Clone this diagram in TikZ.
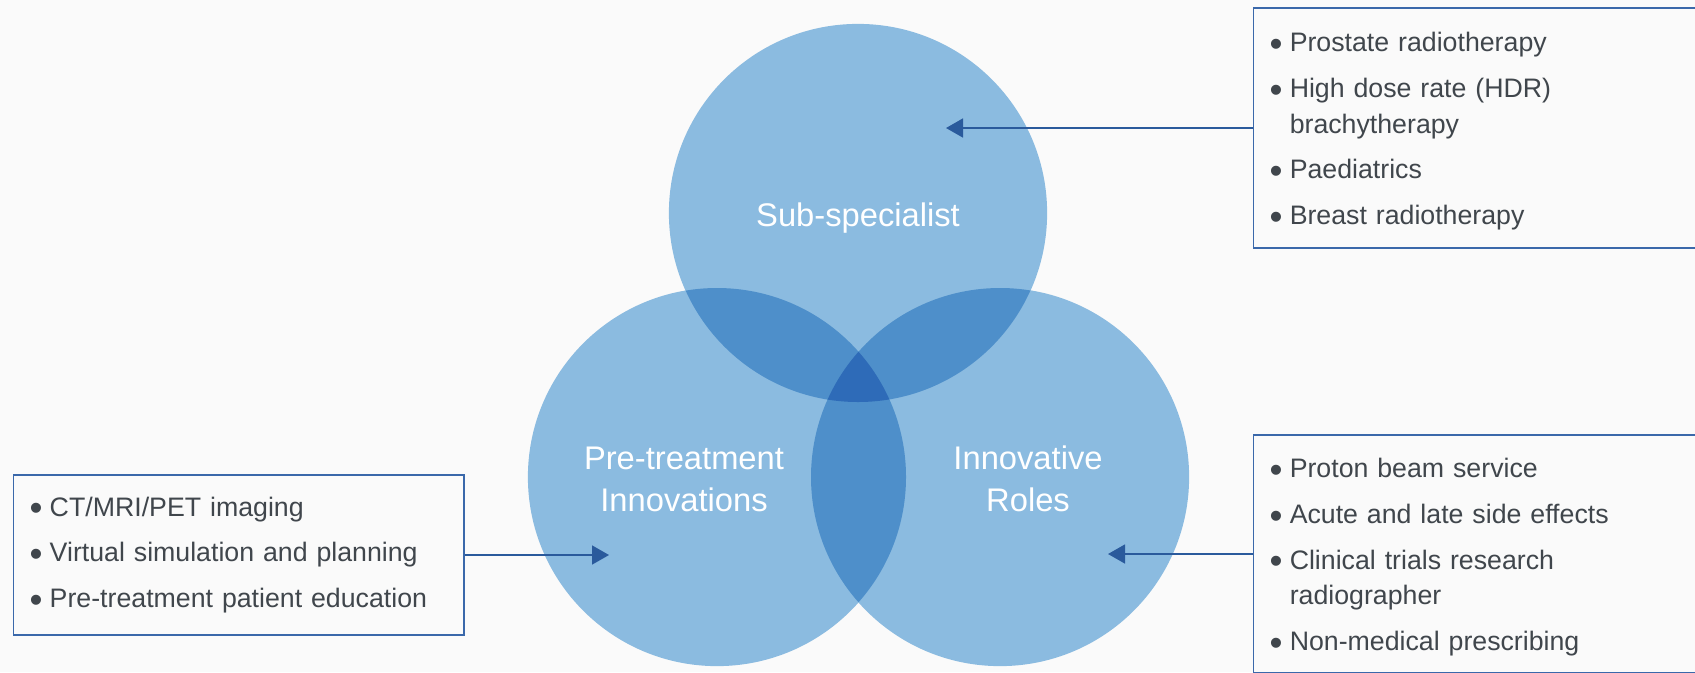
\documentclass[tikz,border=0pt]{standalone}
\usepackage{fontspec}
\setmainfont{Liberation Sans}
\usetikzlibrary{arrows.meta,positioning}

\definecolor{bgpaper}{HTML}{FAFAFA}
\definecolor{ringone}{HTML}{8BBBE0}
\definecolor{ringtwo}{HTML}{4E8FCA}
\definecolor{ringthree}{HTML}{2E6BB8}
\definecolor{frameblue}{HTML}{3A68AA}
\definecolor{arrowblue}{HTML}{2A5A9C}
\definecolor{inkgrey}{HTML}{40464C}

\newcommand{\bul}{\makebox[0.2cm][l]{\raisebox{-1.3pt}{\fontsize{10.5}{0}\selectfont\textbullet}}}
\newcommand{\cont}{\hspace*{0.2cm}}

\begin{document}
\begin{tikzpicture}[x=0.01cm, y=-0.01cm, >={Triangle[length=0.17cm,width=0.19cm]},
  ring/.style={circle, fill=ringone, minimum size=3.78cm, inner sep=0pt},
  ringlabel/.style={text=white, align=center, font=\fontsize{9.3}{12}\selectfont},
  listbox/.style={draw=frameblue, line width=0.4pt, inner xsep=0.16cm, inner ysep=0pt,
    anchor=west, align=left, text=inkgrey, font=\fontsize{7.6}{10.1}\selectfont},
  link/.style={draw=arrowblue, line width=0.45pt, ->}]
  % Canvas
  \useasboundingbox (0,0) rectangle (1695,672);
  \fill[bgpaper] (0,0) rectangle (1695,672);
  \clip (0,0) rectangle (1695,672);
  % Circles
  \node[ring] (sub) at (858,213) {};
  \node[ring] (pre) at (717,477) {};
  \node[ring] (inn) at (1000,477) {};
  % Pairwise overlaps
  \begin{scope}
    \clip (sub.center) circle (189);
    \fill[ringtwo] (pre.center) circle (189);
    \fill[ringtwo] (inn.center) circle (189);
  \end{scope}
  \begin{scope}
    \clip (pre.center) circle (189);
    \fill[ringtwo] (inn.center) circle (189);
  \end{scope}
  % Centre of all three
  \begin{scope}
    \clip (sub.center) circle (189);
    \clip (pre.center) circle (189);
    \fill[ringthree] (inn.center) circle (189);
  \end{scope}
  % Circle labels
  \node[ringlabel, yshift=-0.05cm] (sublabel) at (sub.center) {Sub-specialist};
  \node[ringlabel, xshift=-0.33cm, yshift=-0.02cm] (prelabel) at (pre.center) {Pre-treatment\\Innovations};
  \node[ringlabel, xshift=0.28cm, yshift=-0.02cm] (innlabel) at (inn.center) {Innovative\\Roles};
  % Lists
  \node[listbox, minimum height=2.4cm, text width=4.35cm] (sublist) at (1253,128)
    {\rule{0pt}{7.4pt}\bul Prostate radiotherapy\\[2.9pt]
     \bul High dose rate (HDR)\\
     \cont brachytherapy\\[2.9pt]
     \bul Paediatrics\\[2.9pt]
     \bul Breast radiotherapy};
  \node[listbox, minimum height=1.6cm, text width=4.18cm] (prelist) at (13,555)
    {\bul CT/MRI/PET imaging\\[2.9pt]
     \bul Virtual simulation and planning\\[2.9pt]
     \bul Pre-treatment patient education};
  \node[listbox, minimum height=2.38cm, text width=4.35cm] (innlist) at (1253,554)
    {\rule{0pt}{7.4pt}\bul Proton beam service\\[2.9pt]
     \bul Acute and late side effects\\[2.9pt]
     \bul Clinical trials research\\
     \cont radiographer\\[2.9pt]
     \bul Non-medical prescribing};
  % Connectors
  \coordinate (subtip) at (946,128);
  \coordinate (pretip) at (609,555);
  \coordinate (inntip) at (1108,554);
  \draw[link] (sublist.west) -- (subtip);
  \draw[link] (prelist.east) -- (pretip);
  \draw[link] (innlist.west) -- (inntip);
\end{tikzpicture}
\end{document}
